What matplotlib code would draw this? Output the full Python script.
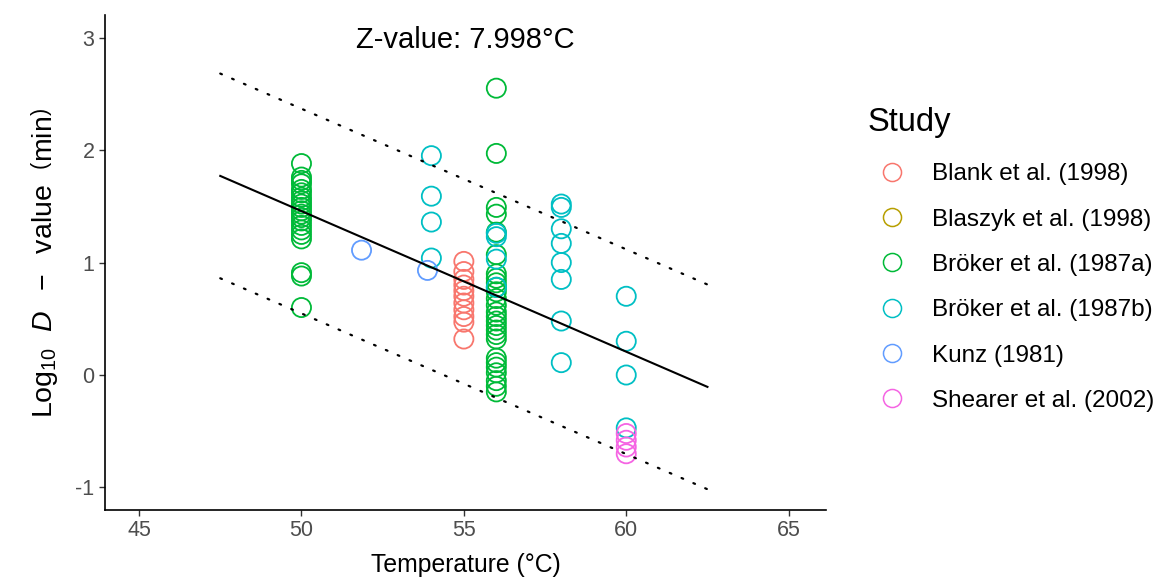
import numpy as np
import matplotlib.pyplot as plt
from matplotlib.lines import Line2D

plt.rcParams['font.family'] = ['Liberation Sans', 'DejaVu Sans']
plt.rcParams['mathtext.fontset'] = 'custom'
plt.rcParams['mathtext.rm'] = 'Liberation Sans'
plt.rcParams['mathtext.it'] = 'Liberation Sans:italic'
plt.rcParams['axes.unicode_minus'] = False

# data
blank_t = [55] * 11
blank_d = [1.01, 0.92, 0.85, 0.80, 0.75, 0.70, 0.64, 0.58, 0.52, 0.47, 0.32]

blaszyk_t = []
blaszyk_d = []

brokera_t = [50] * 21 + [56] * 27
brokera_d = [1.88, 1.76, 1.73, 1.70, 1.65, 1.62, 1.58, 1.55, 1.52, 1.49, 1.46,
             1.43, 1.40, 1.37, 1.33, 1.29, 1.25, 1.21, 0.91, 0.88, 0.60,
             2.55, 1.97, 1.49, 1.43, 1.27, 1.07, 0.90, 0.86, 0.82, 0.78, 0.74,
             0.68, 0.62, 0.56, 0.52, 0.48, 0.44, 0.40, 0.36, 0.32, 0.15, 0.11,
             0.07, 0.02, -0.05, -0.10, -0.15]

brokerb_t = [54] * 4 + [56] * 4 + [58] * 8 + [60] * 4
brokerb_d = [1.95, 1.59, 1.36, 1.04,
             1.26, 1.23, 1.03, 0.78,
             1.52, 1.49, 1.30, 1.17, 1.00, 0.85, 0.48, 0.11,
             0.70, 0.30, 0.00, -0.47]

kunz_t = [51.85, 53.88]
kunz_d = [1.11, 0.93]

shearer_t = [60] * 4
shearer_d = [-0.52, -0.58, -0.64, -0.70]

studies = ['Blank et al. (1998)', 'Blaszyk et al. (1998)', 'Bröker et al. (1987a)',
           'Bröker et al. (1987b)', 'Kunz (1981)', 'Shearer et al. (2002)']
temps = [blank_t, blaszyk_t, brokera_t, brokerb_t, kunz_t, shearer_t]
dvals = [blank_d, blaszyk_d, brokera_d, brokerb_d, kunz_d, shearer_d]
colors = ['#F8766D', '#B79F00', '#00BA38', '#00BFC4', '#619CFF', '#F564E3']

z_value = 7.998
intercept = 7.709
band = 0.91
t_fit = np.array([47.5, 62.5])

fig = plt.figure(figsize=(11.65, 5.8), dpi=100)
ax = fig.add_axes([0.0901, 0.1207, 0.6189, 0.8533])

for t, d, c in zip(temps, dvals, colors):
    ax.scatter(t, d, s=190, facecolors='none', edgecolors=c, linewidths=1.3, zorder=3)

fit = intercept - t_fit / z_value
ax.plot(t_fit, fit, color='black', lw=1.5, zorder=4)
ax.plot(t_fit, fit + band, color='black', lw=1.6, linestyle=(0, (0.8, 5)), dash_capstyle='round', zorder=4)
ax.plot(t_fit, fit - band, color='black', lw=1.6, linestyle=(0, (0.8, 5)), dash_capstyle='round', zorder=4)

ax.text(55.06, 2.98, 'Z-value: %.3f°C' % z_value, ha='center', va='center', fontsize=21)

ax.set_xlim(43.95, 66.15)
ax.set_ylim(-1.2, 3.2)
ax.set_xticks([45, 50, 55, 60, 65])
ax.set_yticks([-1, 0, 1, 2, 3])
ax.tick_params(colors='#333333', labelcolor='#4D4D4D', labelsize=15.5, length=4, width=1)
for s in ['top', 'right']:
    ax.spines[s].set_visible(False)
for s in ['left', 'bottom']:
    ax.spines[s].set_linewidth(1.2)

ax.set_xlabel('Temperature (°C)', fontsize=17.8, labelpad=8)
ax.set_ylabel(r'$\mathrm{Log}_{10}\ \ D\ \ -\ \ \mathrm{value}\ \ \left(\mathrm{min}\right)$',
              fontsize=20.5, labelpad=11)

fig.text(868 / 1165, 1 - 122 / 580, 'Study', ha='left', va='center', fontsize=23.5)
handles = [Line2D([], [], marker='o', linestyle='none', markersize=13, markerfacecolor='none',
                  markeredgecolor=c, markeredgewidth=1.1) for c in colors]
leg = fig.legend(handles, studies, loc='upper left', bbox_to_anchor=(0.7394, 1 - 151 / 580),
                 frameon=False, fontsize=17.5, borderpad=0,
                 labelspacing=0.96, handletextpad=0.9, handlelength=1.5)

fig.savefig('out.png', dpi=100)
